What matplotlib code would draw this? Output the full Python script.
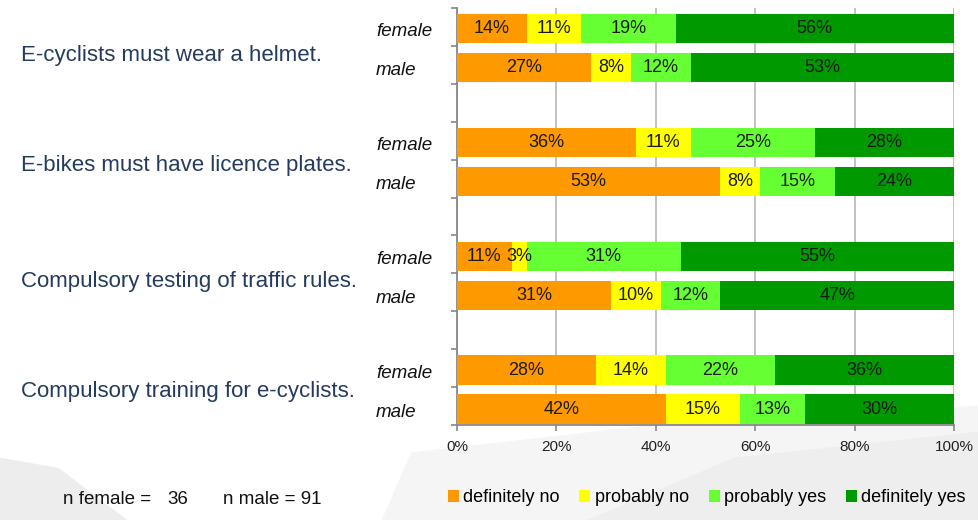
import matplotlib.pyplot as plt
import matplotlib.transforms as mtransforms
import numpy as np
from matplotlib.patches import Polygon

plt.rcParams['font.family'] = ['Liberation Sans', 'DejaVu Sans']

statements = ["E-cyclists must wear a helmet.",
              "E-bikes must have licence plates.",
              "Compulsory testing of traffic rules.",
              "Compulsory training for e-cyclists."]
answers = ["definitely no", "probably no", "probably yes", "definitely yes"]
colors = ["#FF9900", "#FFFF00", "#66FF33", "#009900"]

# rows: female / male for each statement (percent)
female = np.array([[14, 11, 19, 56],
                   [36, 11, 25, 28],
                   [11, 3, 31, 55],
                   [28, 14, 22, 36]])
male = np.array([[27, 8, 12, 53],
                 [53, 8, 15, 24],
                 [31, 10, 12, 47],
                 [42, 15, 13, 30]])
n_female = 36
n_male = 91

W, H = 979, 520
fig = plt.figure(figsize=(W / 100, H / 100), dpi=100)
fig.patch.set_facecolor("white")

# faint background decoration
bg = fig.add_axes([0, 0, 1, 1], zorder=-10)
bg.set_xlim(0, 1)
bg.set_ylim(0, 1)
bg.axis("off")
bg.add_patch(Polygon([[0, 0], [0, 0.12], [0.06, 0.1], [0.13, 0]], closed=True,
                     facecolor="#EDEDED", edgecolor="none"))
bg.add_patch(Polygon([[0.39, 0], [0.42, 0.13], [0.7, 0.19], [1, 0.22], [1, 0]], closed=True,
                     facecolor="#F5F5F5", edgecolor="none"))
bg.add_patch(Polygon([[0.6, 0], [0.75, 0.12], [1, 0.17], [1, 0]], closed=True,
                     facecolor="#EEEEEE", edgecolor="none"))

ax = fig.add_axes([457 / W, 1 - 425 / H, (954 - 457) / W, (425 - 8) / H])
ax.patch.set_alpha(0)

# 11 slots: female, male, gap, ...
pos_f = np.arange(len(statements)) * 3 + 0.55
pos_m = pos_f + 1.03
pos = np.concatenate([pos_f, pos_m])
vals = np.vstack([female, male])

left = np.zeros(len(pos))
for j, (ans, col) in enumerate(zip(answers, colors)):
    w = vals[:, j]
    ax.barh(pos, w, left=left, height=0.77, color=col, edgecolor="none", label=ans, zorder=3)
    for y, l, v in zip(pos, left, w):
        ax.text(l + v / 2, y, f"{v}%", ha="center", va="center", fontsize=13,
                color="#1A1A1A", zorder=4)
    left = left + w

ax.set_xlim(0, 100)
ax.set_ylim(11, 0)
ax.set_xticks(np.arange(0, 101, 20))
ax.set_xticklabels([f"{t}%" for t in range(0, 101, 20)], fontsize=11, color="#222222")
ax.grid(axis="x", color="#BDBDBD", linewidth=1.3, zorder=0)
ax.set_yticks(np.arange(0, 12))
ax.set_yticklabels([])
ax.tick_params(axis="both", color="#888888", length=4, width=1.2)
ax.tick_params(axis="x", pad=7)
for s in ["top", "right"]:
    ax.spines[s].set_visible(False)
for s in ["left", "bottom"]:
    ax.spines[s].set_color("#888888")
    ax.spines[s].set_linewidth(1.3)

# group labels: x in figure, y in data
trans = mtransforms.blended_transform_factory(fig.transFigure, ax.transData)
for y in pos_f:
    fig.text(376 / W, y + 0.08, "female", ha="left", va="center", fontsize=13.5,
             style="italic", color="#111111", transform=trans)
for y in pos_m:
    fig.text(376 / W, y + 0.08, "male", ha="left", va="center", fontsize=13.5,
             style="italic", color="#111111", transform=trans)

stmt_y = [55, 165, 282, 391]
for text, y in zip(statements, stmt_y):
    fig.text(21 / W, 1 - y / H, text, ha="left", va="center", fontsize=16,
             color="#243B5E")

fig.text(63 / W, 1 - 500 / H, "n female =", fontsize=13.5, color="#111111", va="center")
fig.text(167 / W, 1 - 500 / H, f"{n_female}", fontsize=13.5, color="#111111", va="center")
fig.text(223 / W, 1 - 500 / H, f"n male = {n_male}", fontsize=13.5, color="#111111",
         va="center")

handles, labels = ax.get_legend_handles_labels()
fig.legend(handles, labels, loc="center", bbox_to_anchor=(0.722, 1 - 498 / H), ncol=4,
           frameon=False, fontsize=13, handlelength=0.6, handleheight=0.6,
           handletextpad=0.25, columnspacing=1.1, borderaxespad=0)

fig.savefig("out.png", dpi=100)
